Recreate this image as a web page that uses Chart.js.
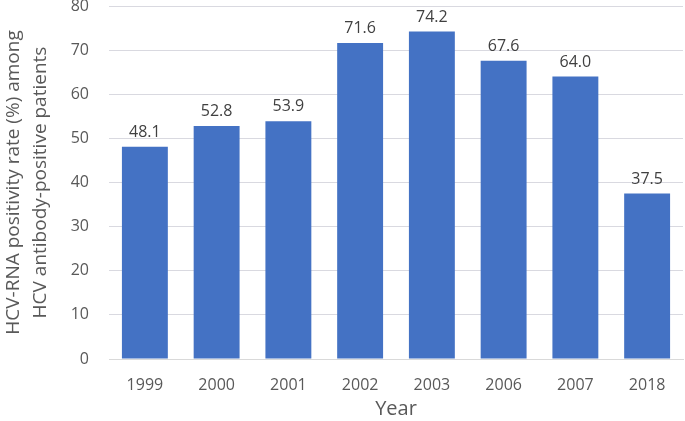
<!DOCTYPE html>
<html>
<head>
<meta charset="utf-8">
<script src="https://cdn.jsdelivr.net/npm/chart.js@4"></script>
<style>
  html, body { margin: 0; padding: 0; background: #fff; }
  #wrap { width: 685px; height: 421px; }
</style>
</head>
<body>
<div id="wrap"><canvas id="chart"></canvas></div>
<script>
// Chart data
const years = ['1999', '2000', '2001', '2002', '2003', '2006', '2007', '2018'];
const rates = [48.1, 52.8, 53.9, 71.6, 74.2, 67.6, 64.0, 37.5];
const yTitle = ['HCV-RNA positivity rate (%) among', 'HCV antibody-positive patients'];
const xTitle = 'Year';

const FONT = '"Open Sans", sans-serif';

// Draw the value above each bar
const valueLabels = {
    id: 'valueLabels',
    afterDatasetsDraw(chart) {
        const ctx = chart.ctx;
        const meta = chart.getDatasetMeta(0);
        ctx.save();
        ctx.font = '16px ' + FONT;
        ctx.fillStyle = '#404040';
        ctx.textAlign = 'center';
        ctx.textBaseline = 'alphabetic';
        meta.data.forEach((bar, i) => {
            ctx.fillText(rates[i].toFixed(1), bar.x, bar.y - 10);
        });
        ctx.restore();
    }
};

new Chart(document.getElementById('chart'), {
    type: 'bar',
    data: {
        labels: years,
        datasets: [{
            data: rates,
            backgroundColor: '#4472C4',
            categoryPercentage: 1.0,
            barPercentage: 0.64
        }]
    },
    options: {
        responsive: true,
        maintainAspectRatio: false,
        animation: false,
        layout: { padding: { top: 0, right: 2, left: 0, bottom: 0 } },
        plugins: {
            legend: { display: false },
            tooltip: { enabled: false }
        },
        scales: {
            x: {
                grid: { display: false },
                border: { color: '#d9d9d9' },
                ticks: { color: '#595959', font: { size: 16, family: FONT }, padding: 9 },
                title: {
                    display: true,
                    text: xTitle,
                    color: '#595959',
                    font: { size: 20, family: FONT },
                    padding: { top: 3, bottom: 0 }
                },
                afterFit(scale) { scale.height = 62; }
            },
            y: {
                min: 0,
                max: 80,
                ticks: { stepSize: 10, color: '#595959', font: { size: 16, family: FONT }, padding: 20 },
                grid: { color: '#d9d9e0', drawTicks: false },
                border: { display: false },
                title: {
                    display: true,
                    text: yTitle,
                    color: '#595959',
                    font: { size: 19, family: FONT, lineHeight: 1.42 },
                    padding: { top: 0, bottom: 0 }
                },
                afterFit(scale) {
                    scale.width = 109;
                    scale.paddingTop = 6;
                    scale.paddingBottom = 0;
                }
            }
        }
    },
    plugins: [valueLabels]
});
</script>
</body>
</html>
